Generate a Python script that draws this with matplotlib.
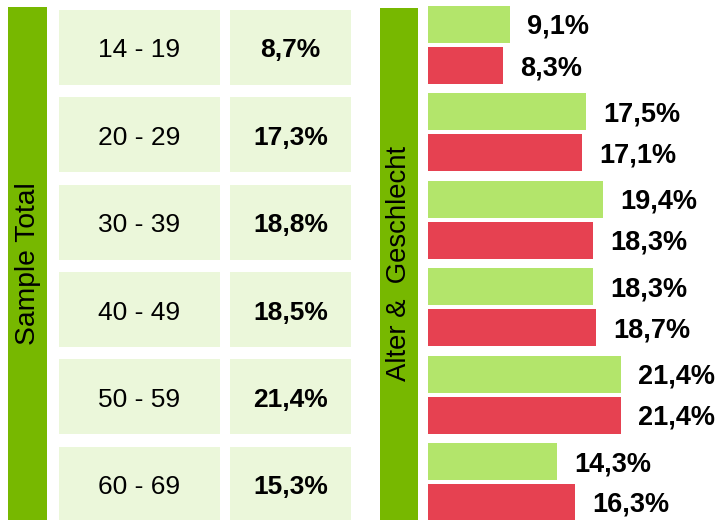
import matplotlib.pyplot as plt

plt.rcParams['font.family'] = ['Liberation Sans', 'DejaVu Sans']

FONTSIZE = 19

age_groups = ['14 - 19', '20 - 29', '30 - 39', '40 - 49', '50 - 59', '60 - 69']
sample_total = [8.7, 17.3, 18.8, 18.5, 21.4, 15.3]
green_share = [9.1, 17.5, 19.4, 18.3, 21.4, 14.3]
red_share = [8.3, 17.1, 18.3, 18.7, 21.4, 16.3]

DARK_GREEN = '#77b800'
CELL_BG = '#ebf7da'
LIGHT_GREEN = '#b3e56b'
RED = '#e64151'

W, H = 716, 520
PITCH = 87.4
ylim = ((H - 45) / PITCH, -45 / PITCH)
DY = 3 / PITCH  # nudge text down a little
CELL_OFF = 2.3 / PITCH  # cells sit slightly lower than the bar groups


def fmt(v):
    return f'{v:.1f}%'.replace('.', ',')


fig = plt.figure(figsize=(W / 100, H / 100), dpi=100)

# layout axes: x in pixels, y in row units
lay = fig.add_axes([0, 0, 1, 1])
lay.set_xlim(0, W)
lay.set_ylim(*ylim)
lay.axis('off')

rows = range(len(age_groups))
cy = [i + CELL_OFF for i in rows]
lay.axvspan(8, 47, ymin=0, ymax=1 - 7 / H, color=DARK_GREEN, lw=0)
lay.axvspan(380, 418, ymin=0, ymax=1 - 8 / H, color=DARK_GREEN, lw=0)
cell_h = 75 / PITCH
lay.barh(cy, 161, left=59, height=cell_h, color=CELL_BG, lw=0)
lay.barh(cy, 121, left=230, height=cell_h, color=CELL_BG, lw=0)
for y, g, v in zip(cy, age_groups, sample_total):
    lay.text(139.5, y + DY, g, ha='center', va='center', fontsize=FONTSIZE)
    lay.text(290.5, y + DY, fmt(v), ha='center', va='center',
             fontsize=FONTSIZE, fontweight='bold')

lay.text(28, (263.5 - 45) / PITCH, 'Sample Total', rotation=90,
         ha='center', va='center', fontsize=20.3)
lay.text(399, (263.5 - 45) / PITCH, 'Alter &  Geschlecht', rotation=90,
         ha='center', va='center', fontsize=19.8)

# bar axes
ax = fig.add_axes([428 / W, 0, (W - 428) / W, 1])
ax.set_xlim(0, (W - 428) / 9)
ax.set_ylim(*ylim)
ax.axis('off')

off = 20.5 / PITCH
bh = 37 / PITCH
gy = [i - off for i in rows]
ry = [i + off for i in rows]
ax.barh(gy, green_share, height=bh, color=LIGHT_GREEN, lw=0)
ax.barh(ry, red_share, height=bh, color=RED, lw=0)
for y, v in list(zip(gy, green_share)) + list(zip(ry, red_share)):
    ax.annotate(fmt(v), (v, y), xytext=(12.5, -1.8), textcoords='offset points',
                ha='left', va='center', fontsize=19.5, fontweight='bold')

plt.savefig('out.png', dpi=100)
